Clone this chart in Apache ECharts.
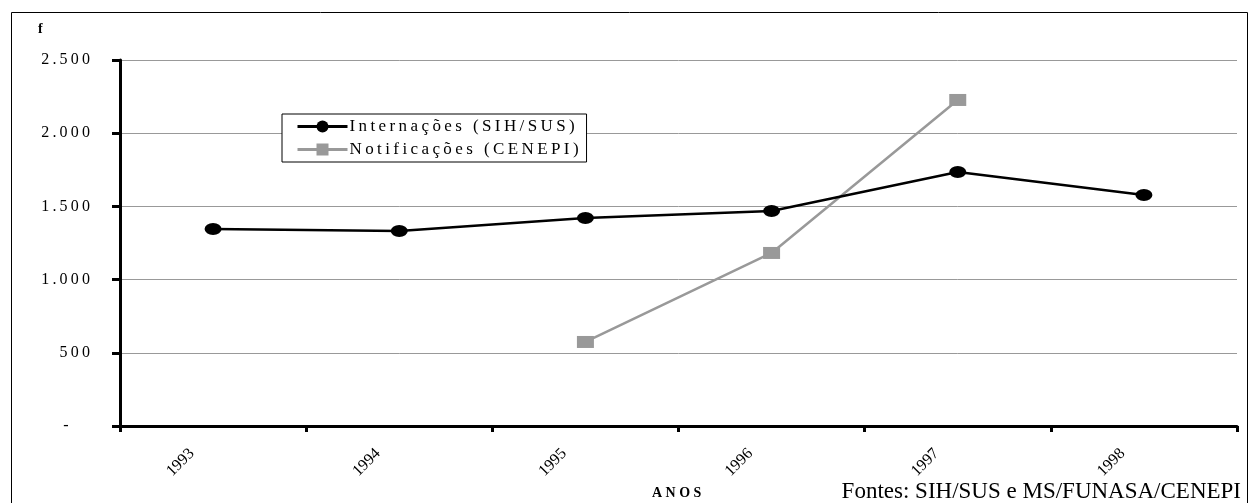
<!DOCTYPE html>
<html>
<head>
<meta charset="utf-8">
<script src="https://cdn.jsdelivr.net/npm/echarts@6/dist/echarts.min.js"></script>
<style>
  html, body { margin: 0; padding: 0; background: #fff; }
  #chart { width: 1249px; height: 503px; }
</style>
</head>
<body>
<div id="chart"></div>
<script>
// Years on the horizontal axis
const anos = ['1993', '1994', '1995', '1996', '1997', '1998'];
// Hospital admissions (SIH/SUS)
const internacoes = [1346, 1332, 1421, 1469, 1735, 1578];
// Notified cases (CENEPI); no data before 1995 nor in 1998
const notificacoes = [null, null, 574, 1182, 2227, null];
// Value axis ticks
const yTicks = [0, 500, 1000, 1500, 2000, 2500];

const serif = '"Liberation Serif", "Times New Roman", serif';
const spaced = s => s.split('').join('\u2009');

const chart = echarts.init(document.getElementById('chart'));
chart.setOption({
  animation: false,
  backgroundColor: '#fff',
  textStyle: { fontFamily: serif, color: '#000' },
  grid: { left: 120, right: 12, top: 60, bottom: 77 },
  graphic: [
    { type: 'rect', shape: { x: 11.5, y: 12.5, width: 1236, height: 520 },
      style: { fill: 'none', stroke: '#000', lineWidth: 1 }, silent: true },
    { type: 'text', left: 38, top: 22,
      style: { text: 'f', font: 'bold 14px ' + serif, fill: '#000' } },
    { type: 'text', left: 652, top: 486,
      style: { text: 'ANOS'.split('').join(' '), font: 'bold 14px ' + serif, fill: '#000' } },
    { type: 'text', right: 8, top: 480,
      style: { text: 'Fontes: SIH/SUS e MS/FUNASA/CENEPI', font: '23px ' + serif, fill: '#000' } }
  ],
  legend: {
    left: 282, top: 114,
    orient: 'vertical',
    padding: [4, 8, 4, 14],
    itemGap: 6,
    itemWidth: 50, itemHeight: 15,
    borderColor: '#000', borderWidth: 1, borderRadius: 0,
    backgroundColor: '#fff',
    lineStyle: { width: 3 },
    textStyle: { fontFamily: serif, fontSize: 17, lineHeight: 17, color: '#000', padding: [0, 0, 0, -3] },
    formatter: name => spaced(name),
    data: ['Internações (SIH/SUS)', 'Notificações (CENEPI)']
  },
  xAxis: {
    type: 'category',
    data: anos,
    boundaryGap: true,
    axisLine: { show: true, lineStyle: { color: '#000', width: 3 } },
    axisTick: { show: true, length: 6, lineStyle: { color: '#000', width: 3 } },
    axisLabel: {
      rotate: 45, margin: 4, fontSize: 16, fontFamily: serif, color: '#000',
      padding: [0, 30, 0, 0]
    },
    splitLine: { show: false }
  },
  yAxis: {
    type: 'value',
    min: yTicks[0], max: yTicks[yTicks.length - 1], interval: 500,
    axisLine: { show: true, lineStyle: { color: '#000', width: 3 } },
    axisTick: { show: true, length: 8, lineStyle: { color: '#000', width: 3 } },
    axisLabel: {
      margin: 30, fontSize: 16, fontFamily: serif, color: '#000',
      formatter: v => v === 0 ? '-\u2003\u2004' : spaced(v.toLocaleString('de-DE'))
    },
    splitLine: { lineStyle: { color: '#999', width: 1 } }
  },
  series: [
    {
      name: 'Internações (SIH/SUS)',
      type: 'line',
      data: internacoes,
      symbol: 'circle', symbolSize: [17, 12],
      lineStyle: { color: '#000', width: 2.5 },
      itemStyle: { color: '#000' },
      z: 3
    },
    {
      name: 'Notificações (CENEPI)',
      type: 'line',
      data: notificacoes,
      symbol: 'rect', symbolSize: [17, 12],
      lineStyle: { color: '#999', width: 2.5 },
      itemStyle: { color: '#999' },
      z: 2
    }
  ]
});
</script>
</body>
</html>
